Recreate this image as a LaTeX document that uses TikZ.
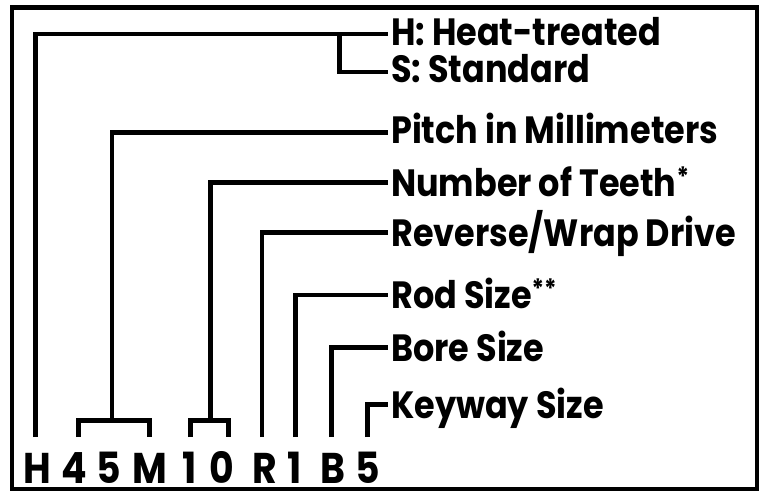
\documentclass[tikz,border=0pt]{standalone}
\usepackage{fontspec}
\setmainfont{Poppins}[FakeStretch=0.88]
\begin{document}
\begin{tikzpicture}[x=1pt,y=-1pt,
  wire/.style={line width=4.5pt},
  lbl/.style={anchor=base west,inner sep=0pt,font=\fontsize{38}{38}\selectfont\bfseries},
  code/.style={anchor=base,inner sep=0pt,font=\fontsize{43}{43}\selectfont\bfseries}]
\useasboundingbox (0,0) rectangle (762,493);
\draw[wire] (12,7.5) rectangle (757,489);
% labels (base lines)
\node[lbl] (lH) at (391,45) {H: Heat-treated};
\node[lbl] (lS) at (391,82) {S: Standard};
\node[lbl] (lP) at (391,143.5) {Pitch in Millimeters};
\node[lbl] (lN) at (391,196) {Number of Teeth\textsuperscript{*}};
\node[lbl] (lR) at (391,246) {Reverse/Wrap Drive};
\node[lbl] (lRod) at (391,308) {Rod Size\textsuperscript{**}};
\node[lbl] (lB) at (391,361) {Bore Size};
\node[lbl] (lK) at (391,418) {Keyway Size};
% code letters
\node[code] (cH) at (37.5,483) {H};
\node[code] (c4) at (74.5,483) {4};
\node[code] (c5a) at (108.5,483) {5};
\node[code] (cM) at (150,483) {M};
\node[code] (c1a) at (190,483) {1};
\node[code] (c0) at (222,483) {0};
\node[code] (cR) at (264.5,483) {R};
\node[code] (c1b) at (294.5,483) {1};
\node[code] (cB) at (332.5,483) {B};
\node[code] (c5b) at (367.5,483) {5};
% feet
\coordinate (fH) at (35.5,437);
\coordinate (f4) at (78.5,437);
\coordinate (fM) at (149.5,437);
\coordinate (f1) at (190.5,437);
\coordinate (f0) at (228.5,437);
\coordinate (fR) at (262,437);
\coordinate (f1b) at (295.5,437);
\coordinate (fB) at (331.5,437);
\coordinate (f5) at (367.5,437);
\coordinate (jHS) at (339.5,34);
\coordinate (s45M) at (112,420.5);
\coordinate (s10) at (210.5,420.5);
% connectors
\draw[wire] (fH) |- ([shift={(-3pt,11pt)}]lH.base west);
\draw[wire] (jHS) |- ([shift={(-3pt,10pt)}]lS.base west);
\draw[wire] (f4) |- (s45M) -| (fM);
\draw[wire] (s45M) |- ([shift={(-3pt,11pt)}]lP.base west);
\draw[wire] (f1) |- (s10) -| (f0);
\draw[wire] (s10) |- ([shift={(-3pt,13.5pt)}]lN.base west);
\draw[wire] (fR) |- ([shift={(-3pt,13.5pt)}]lR.base west);
\draw[wire] (f1b) |- ([shift={(-3pt,13pt)}]lRod.base west);
\draw[wire] (fB) |- ([shift={(-3pt,13.5pt)}]lB.base west);
\draw[wire] (f5) |- ([shift={(-3pt,13.5pt)}]lK.base west);
\end{tikzpicture}
\end{document}
